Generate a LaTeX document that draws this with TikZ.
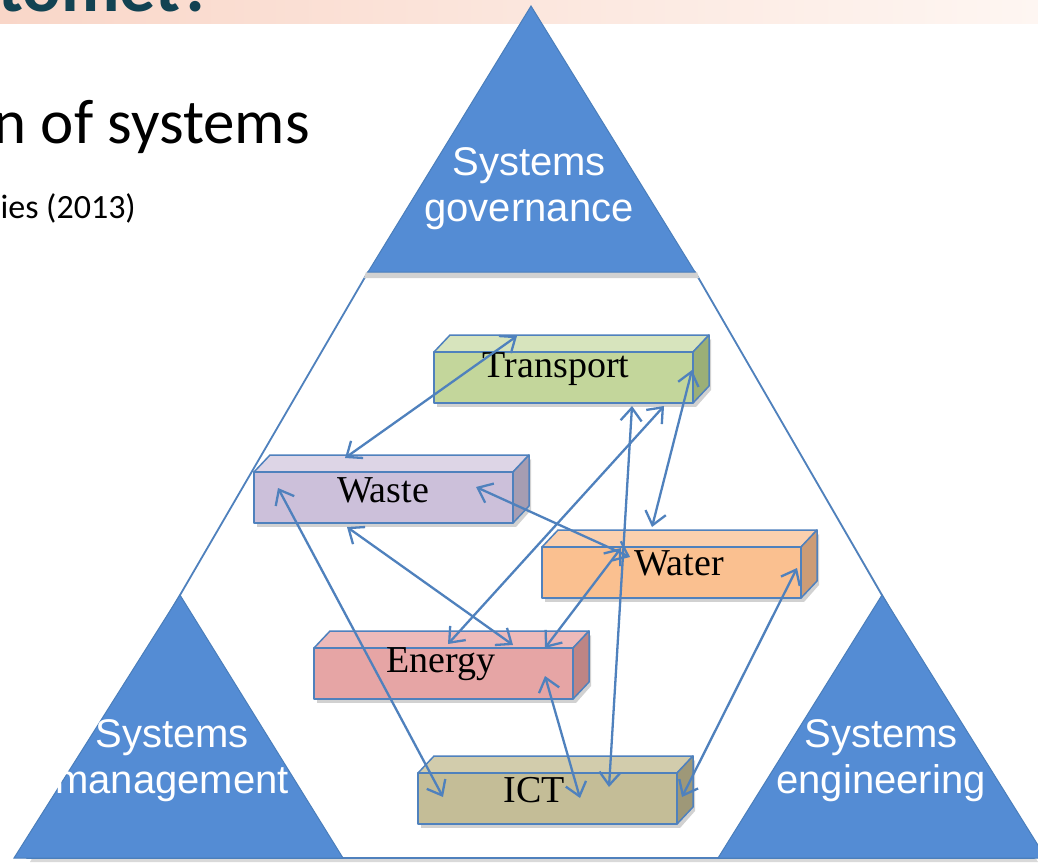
\documentclass[tikz,border=0pt]{standalone}
\usepackage{fontspec}
\setmainfont{Liberation Serif}
\newfontfamily\arialf{Liberation Sans}
\newfontfamily\calibrif{Carlito}
\usetikzlibrary{arrows.meta}
\definecolor{triblue}{RGB}{84,140,212}
\definecolor{triedge}{RGB}{74,126,187}
\definecolor{lineblue}{RGB}{79,129,189}
\definecolor{titleteal}{RGB}{18,66,82}
\definecolor{bandL}{RGB}{249,214,200}
\definecolor{bandR}{RGB}{254,246,242}
\definecolor{trF}{RGB}{195,214,155}\definecolor{trT}{RGB}{215,228,189}\definecolor{trS}{RGB}{155,175,119}
\definecolor{waF}{RGB}{204,192,218}\definecolor{waT}{RGB}{221,213,230}\definecolor{waS}{RGB}{166,157,178}
\definecolor{wtF}{RGB}{250,192,144}\definecolor{wtT}{RGB}{251,208,174}\definecolor{wtS}{RGB}{204,156,118}
\definecolor{enF}{RGB}{230,165,165}\definecolor{enT}{RGB}{237,186,186}\definecolor{enS}{RGB}{190,133,133}
\definecolor{icF}{RGB}{196,189,151}\definecolor{icT}{RGB}{210,204,172}\definecolor{icS}{RGB}{158,152,120}
\tikzset{
  tri/.style={fill=triblue,draw=triedge,line width=1pt},
  tritext/.style={text=white,font=\arialf\fontsize{40}{48}\selectfont,anchor=base,inner sep=0pt},
  boxtext/.style={text=black,font=\fontsize{38}{44}\selectfont,anchor=base,inner sep=0pt},
  boxedge/.style={draw=lineblue,line width=1.5pt,line join=round},
  link/.style={draw=lineblue,line width=2.3pt,{Straight Barb[length=13pt,width=21pt,line width=2.3pt]}-{Straight Barb[length=13pt,width=21pt,line width=2.3pt]}}
}
% cuboid: #1 x, #2 y (front top-left), #3 front, #4 top, #5 side
\newcommand{\mycuboid}[5]{%
  \fill[black!18] (#1+3,#2+4) rectangle (#1+262,#2+55);
  \fill[black!18] (#1+262,#2+4) -- (#1+277,#2-13) -- (#1+277,#2+38) -- (#1+262,#2+55) -- cycle;
  \filldraw[boxedge,fill=#4] (#1,#2) -- (#1+16,#2-17) -- (#1+275,#2-17) -- (#1+259,#2) -- cycle;
  \filldraw[boxedge,fill=#5] (#1+259,#2) -- (#1+275,#2-17) -- (#1+275,#2+34) -- (#1+259,#2+51) -- cycle;
  \filldraw[boxedge,fill=#3] (#1,#2) rectangle (#1+259,#2+51);
}
\begin{document}
\begin{tikzpicture}[x=1pt,y=-1pt]
\useasboundingbox (0,0) rectangle (1038,862);
\clip (0,0) rectangle (1038,862);
\fill[white] (0,0) rectangle (1038,862);
% header band
\shade[left color=bandL,right color=bandR] (0,0) rectangle (1038,24);
\node[font=\calibrif\bfseries\fontsize{72}{80}\selectfont,text=titleteal,anchor=base west,inner sep=0pt] (title) at (-2,12) {tomet?};
\fill[white] (0,24) rectangle (1038,28);
% left texts
\node[font=\calibrif\fontsize{63}{72}\selectfont,anchor=base east,inner sep=0pt] (sub) at (310,143) {n of systems};
\node[font=\calibrif\fontsize{34}{40}\selectfont,anchor=base east,inner sep=0pt] (ref) at (136,218) {ies (2013)};
% outline triangle with shadow
\fill[black!15] (371,276) -- (30,862) -- (1038,862) -- (698,276) -- cycle;
\filldraw[fill=white,draw=lineblue,line width=1.8pt,line join=round] (368,272) -- (27,858) -- (1034,858) -- (695,272) -- cycle;
% top triangle shadow + triangles
\fill[black!18] (366,272) -- (697,272) -- (699,278) -- (364,278) -- cycle;
\filldraw[tri] (531,6) -- (368,272) -- (695,272) -- cycle;
\filldraw[tri] (180,595) -- (14,858) -- (343,858) -- cycle;
\filldraw[tri] (882,595) -- (718,858) -- (1046,858) -- cycle;
\node[tritext] (gov1) at (529,175) {Systems};
\node[tritext] (gov2) at (529,221) {governance};
\node[tritext] (man1) at (172,747) {Systems};
\node[tritext] (man2) at (172,793) {management};
\node[tritext] (eng1) at (881,747) {Systems};
\node[tritext] (eng2) at (881,793) {engineering};
% boxes
\mycuboid{434}{352}{trF}{trT}{trS}
\mycuboid{254}{472}{waF}{waT}{waS}
\mycuboid{542}{547}{wtF}{wtT}{wtS}
\mycuboid{314}{648}{enF}{enT}{enS}
\mycuboid{418}{773}{icF}{icT}{icS}
\node[boxtext] (transport) at (556,377) {Transport};
\node[boxtext] (waste) at (383,502) {Waste};
\node[boxtext] (water) at (679,575) {Water};
\node[boxtext] (energy) at (441,672) {Energy};
\node[boxtext] (ict) at (534,802) {ICT};
% connector end points
\coordinate (tA) at (517,336); \coordinate (waA) at (345,458);
\coordinate (tB) at (664,406); \coordinate (enB) at (448,644);
\coordinate (tC) at (632,406); \coordinate (icC) at (609,787);
\coordinate (tD) at (692,370); \coordinate (wtD) at (652,527);
\coordinate (waE) at (476,487); \coordinate (wtE) at (630,557);
\coordinate (waF) at (347,527); \coordinate (enF) at (513,645);
\coordinate (waG) at (278,488); \coordinate (icG) at (443,797);
\coordinate (wtH) at (621,548); \coordinate (enH) at (545,648);
\coordinate (wtI) at (797,568); \coordinate (icI) at (682,797);
\coordinate (enJ) at (545,676); \coordinate (icJ) at (580,798);
\draw[link] (tA) -- (waA);
\draw[link] (tB) -- (enB);
\draw[link] (tC) -- (icC);
\draw[link] (tD) -- (wtD);
\draw[link] (waE) -- (wtE);
\draw[link] (waF) -- (enF);
\draw[link] (waG) -- (icG);
\draw[link] (wtH) -- (enH);
\draw[link] (wtI) -- (icI);
\draw[link] (enJ) -- (icJ);
\end{tikzpicture}
\end{document}
